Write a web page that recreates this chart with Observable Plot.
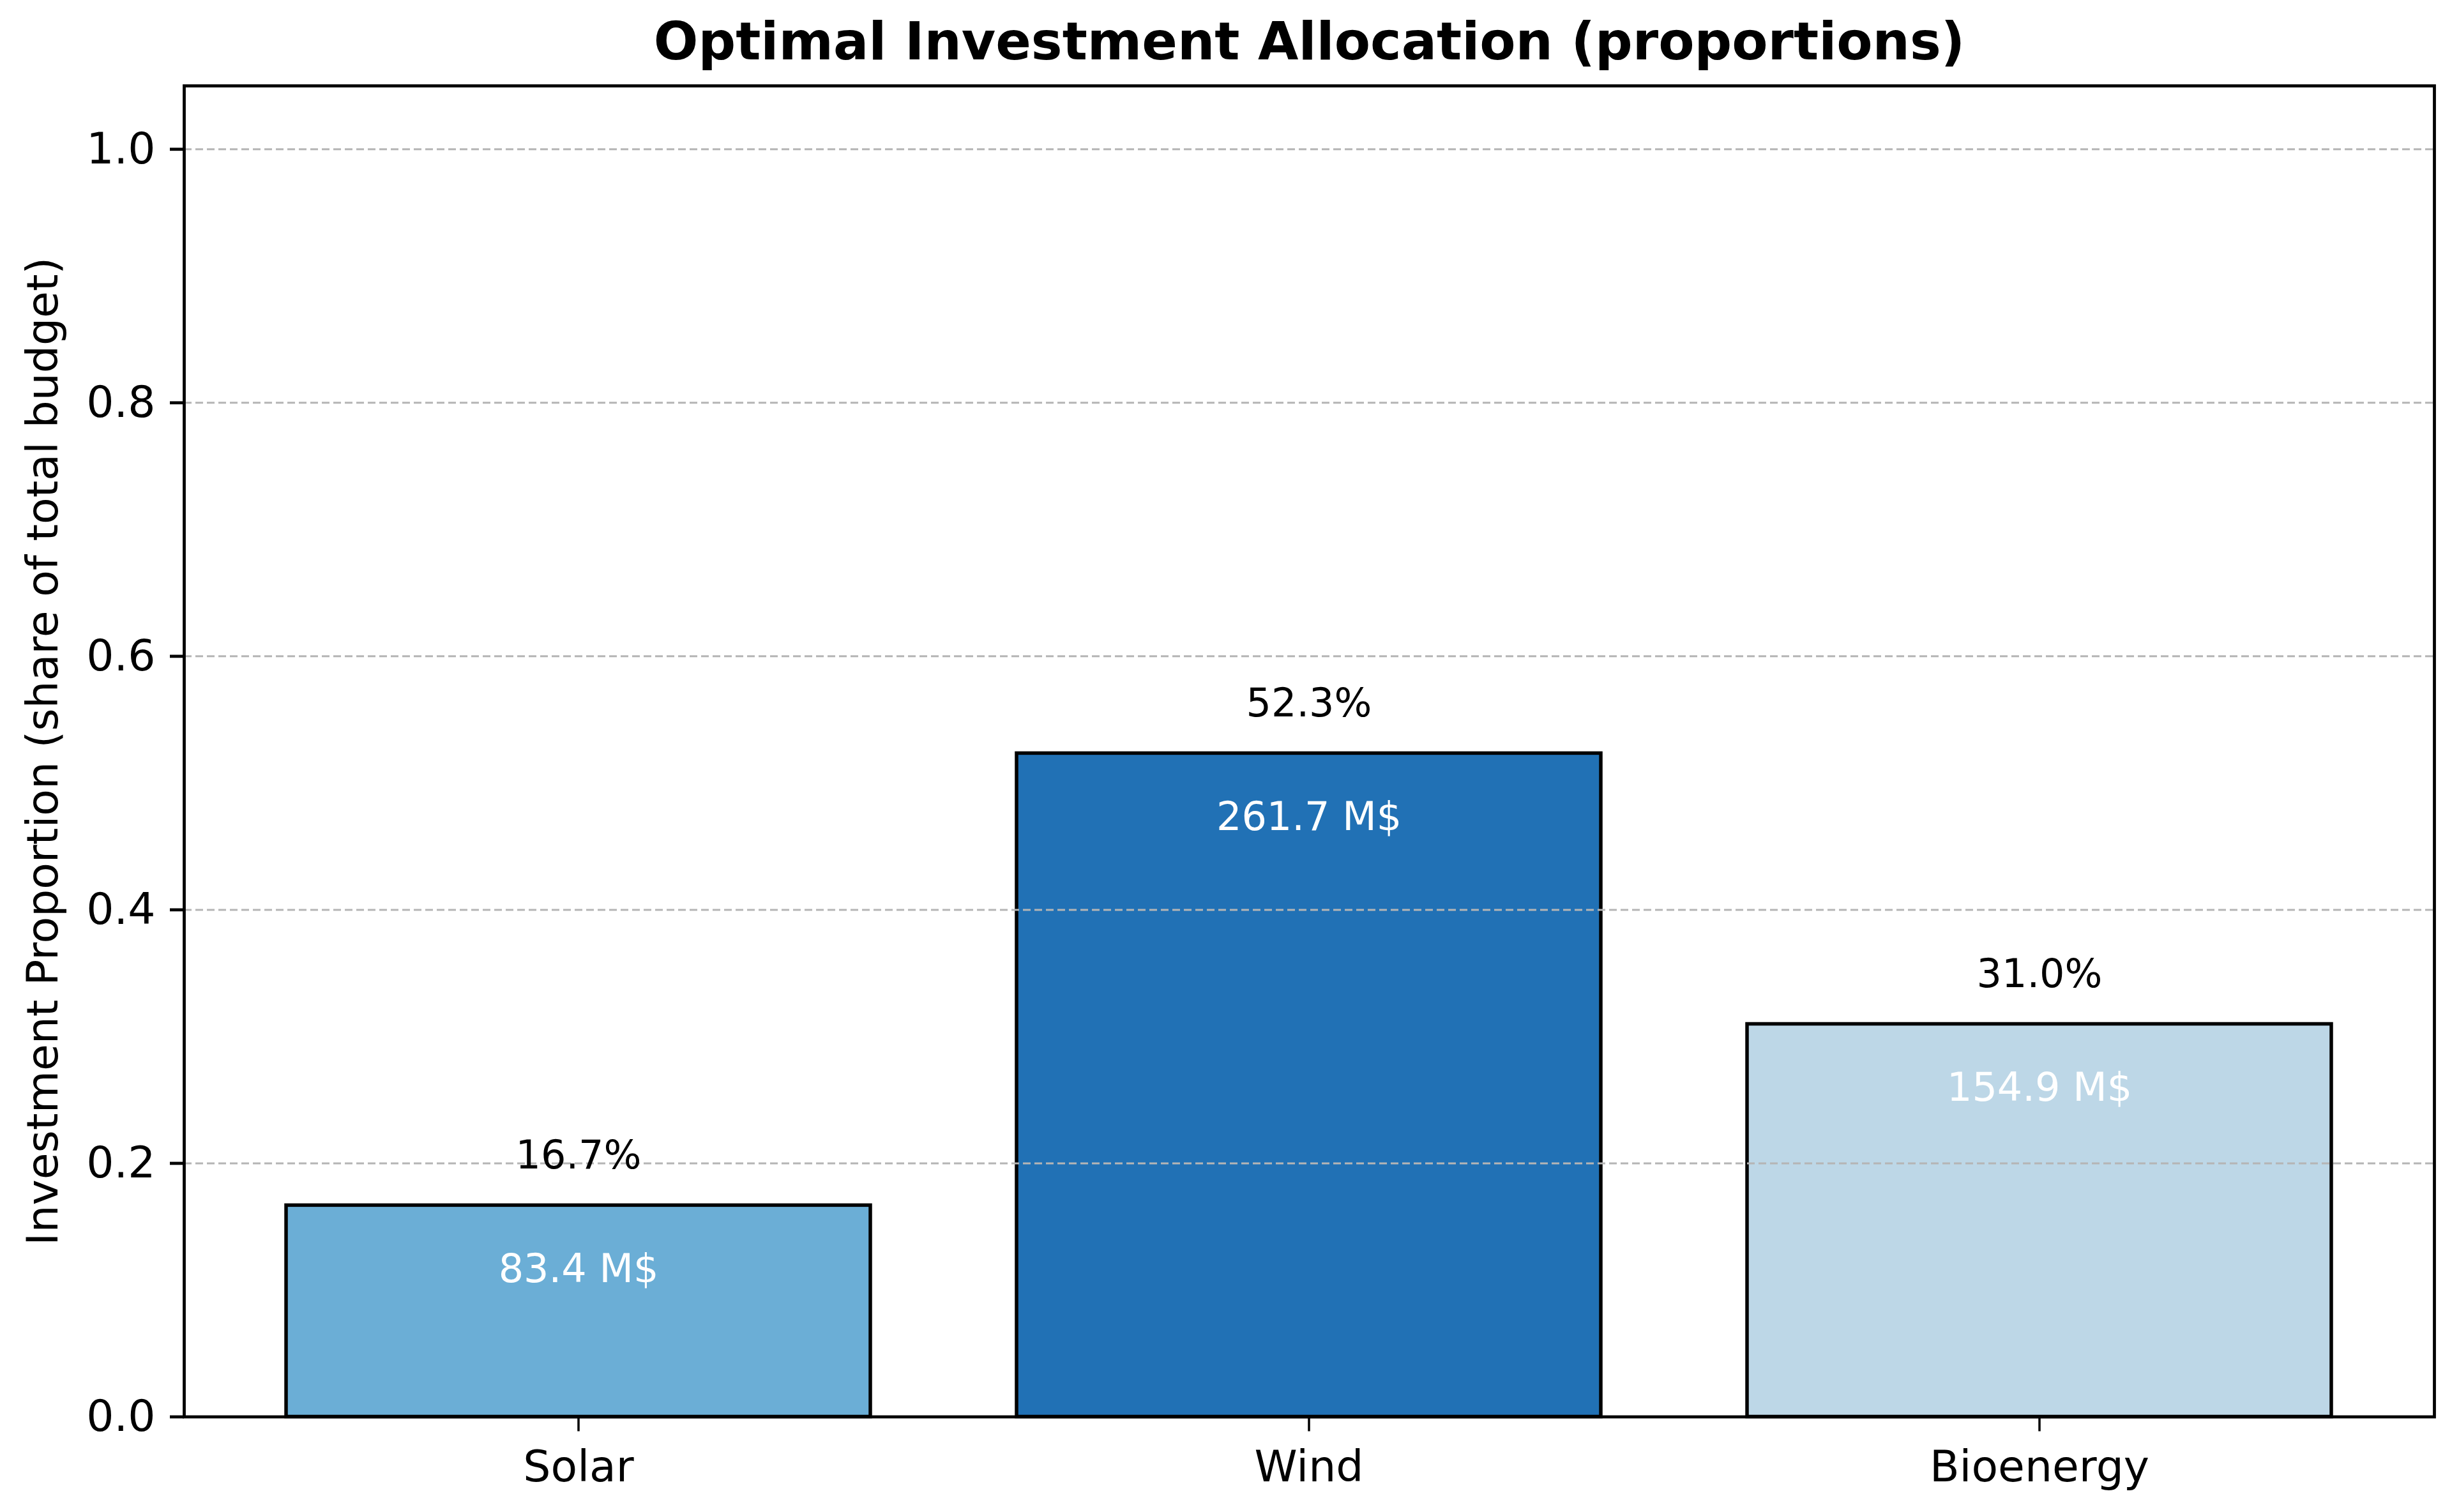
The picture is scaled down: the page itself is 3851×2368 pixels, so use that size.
<!DOCTYPE html>
<html>
<head>
<meta charset="utf-8">
<script src="https://cdn.jsdelivr.net/npm/d3@7"></script>
<script src="https://cdn.jsdelivr.net/npm/@observablehq/plot@0.6"></script>
<style>
  html, body { margin: 0; padding: 0; background: #fff; }
  #chart svg { display: block; }
</style>
</head>
<body>
<div id="chart"></div>
<script>
const categories = ["Solar", "Wind", "Bioenergy"];
const shares = [0.1668, 0.5234, 0.3098];
const amounts = [83.4, 261.7, 154.9];
const barColors = ["#6baed6", "#2171b5", "#bdd7e7"];
const yTicks = [0, 0.2, 0.4, 0.6, 0.8, 1.0];
const titleText = "Optimal Investment Allocation (proportions)";
const yLabelText = "Investment Proportion (share of total budget)";

const data = categories.map((c, i) => ({
  category: c,
  share: shares[i],
  amount: amounts[i],
  pct: d3.format(".1%")(shares[i]),
  money: amounts[i].toFixed(1) + " M$"
}));

const W = 3851, H = 2368;
const chart = Plot.plot({
  width: W,
  height: H,
  marginLeft: 288,
  marginRight: 39,
  marginTop: 134,
  marginBottom: 149.5,
  style: { fontFamily: "DejaVu Sans", fontSize: "68px", background: "#fff", color: "#000" },
  x: { domain: categories, paddingInner: 0.2, paddingOuter: 0.14, align: 0.5, label: null },
  y: { domain: [0, 1.05], label: null },
  color: { domain: categories, range: barColors },
  marks: [
    Plot.barY(data, { x: "category", y: "share", fill: "category", stroke: "#000", strokeWidth: 5.5 }),
    Plot.gridY(yTicks, { stroke: "#b5b5b5", strokeOpacity: 1, strokeWidth: 3, strokeDasharray: "12,6" }),
    Plot.text(data, { x: "category", y: "share", text: "pct", dy: -78, fill: "#000", fontSize: 62, lineAnchor: "middle" }),
    Plot.text(data, { x: "category", y: "share", text: "money", dy: 100, fill: "#fff", fontSize: 62, lineAnchor: "middle" }),
    Plot.axisY({ ticks: yTicks, tickFormat: d3.format(".1f"), tickSize: 22, tickPadding: 23, strokeWidth: 4.8, fontSize: 68, label: null }),
    Plot.axisX({ tickSize: 23, tickPadding: 30, strokeWidth: 3.5, fontSize: 68, label: null }),
    Plot.frame({ stroke: "#000", strokeWidth: 4.8 }),
    Plot.text([titleText], { text: d => d, frameAnchor: "top", dy: -68, fontSize: 82, fontWeight: "bold", fill: "#000", lineAnchor: "middle" }),
    Plot.text([yLabelText], { text: d => d, frameAnchor: "left", dx: -220, rotate: -90, fontSize: 68, fill: "#000", lineAnchor: "middle", textAnchor: "middle" })
  ]
});
document.getElementById("chart").appendChild(chart);
</script>
</body>
</html>
